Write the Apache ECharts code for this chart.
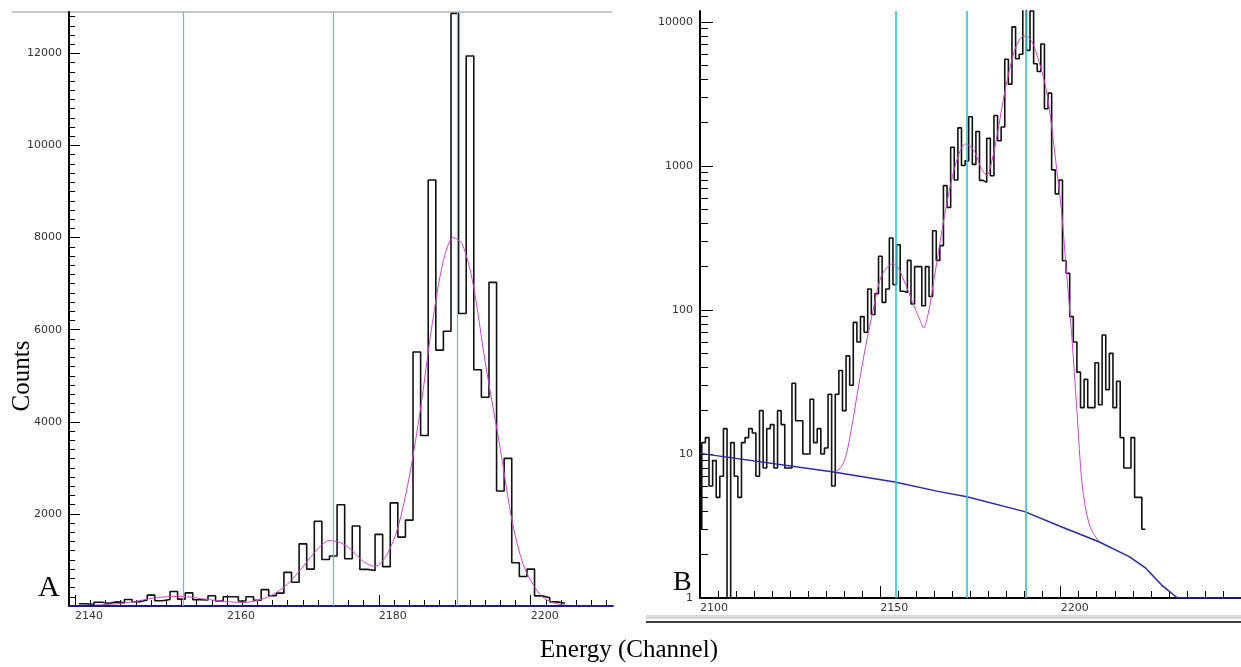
<!DOCTYPE html>
<html>
<head>
<meta charset="utf-8">
<script src="https://cdn.jsdelivr.net/npm/echarts@6/dist/echarts.min.js"></script>
<style>
  html, body { margin: 0; padding: 0; background: #fff; }
  #main { width: 1241px; height: 667px; }
</style>
</head>
<body>
<div id="main"></div>
<script>
// one bin per channel, first bin is firstChannel
const firstChannel = 2100;
const counts = [
  3, 12, 13, 6, 9, 5, 7, 15, 1, 12,          // 2100
  7, 5, 12, 13, 15, 14, 7, 20, 8, 15,        // 2110
  16, 8, 20, 16, 8, 8, 31, 17, 17, 10,       // 2120
  10, 24, 12, 15, 10, 11, 26, 6, 26, 38,     // 2130
  20, 48, 30, 82, 60, 90, 70, 140, 93, 130,  // 2140
  236, 113, 140, 316, 150, 284, 135, 132, 221, 110, // 2150
  200, 200, 107, 200, 124, 355, 221, 280, 730, 515, // 2160
  1350, 800, 1840, 1009, 1086, 2200, 1026, 1736, 795, 770, // 2170
  1556, 855, 2240, 1496, 1864, 5515, 3702, 9251, 5557, 5968, // 2180
  12868, 6353, 11944, 5130, 4532, 7028, 2497, 3206, 940, 640, // 2190
  800, 220, 180, 90, 60, 37, 21, 33, 21, 21, // 2200
  43, 22, 67, 28, 50, 21, 32, 13, 8, 8,      // 2210
  13, 5, 5, 3                                // 2220
];
// channels drawn in the linear panel
const linearRange = [2141, 2204];

// fitted peak shape (magenta)
const fitChannels = [2137, 2139, 2140.5, 2142, 2144, 2146, 2148, 2150, 2152, 2153.5,
  2155, 2157, 2159, 2161, 2162, 2163.3, 2165, 2166.5, 2168, 2170,
  2172, 2173.5, 2175, 2176.5, 2178, 2179.5, 2181, 2182.5, 2184, 2185.5,
  2187, 2188.5, 2189.8, 2191, 2192.4, 2194, 2196, 2197.6, 2199, 2200.2,
  2201.5, 2203, 2204.5, 2206, 2208, 2210.6];
const fitCounts = [7.5, 8.0, 9.8, 15, 30, 57, 100, 165, 200, 210,
  195, 150, 112, 85, 75, 95, 170, 290, 480, 850,
  1250, 1420, 1370, 1200, 960, 860, 1100, 1700, 2800, 4300,
  6100, 7500, 8000, 7850, 7000, 5300, 3400, 1800, 900, 500,
  200, 70, 20, 6, 3.2, 2.46];

// background under the peaks (blue)
const bgChannels = [2100, 2137, 2154, 2166, 2174, 2190, 2200.5, 2210.6, 2219, 2223.6, 2228, 2232.4, 2250];
const bgCounts = [10.1, 7.5, 6.4, 5.5, 5.05, 3.98, 3.1, 2.46, 1.94, 1.61, 1.23, 1.0, 1.0];

// peak centroids (cyan markers)
const centroids = [2154.2, 2174.0, 2190.3];

// axis labels
const linearXLabels = [2140, 2160, 2180, 2200];
const linearYLabels = [2000, 4000, 6000, 8000, 10000, 12000];
const logXLabels = [2100, 2150, 2200];
const logYLabels = [1, 10, 100, 1000, 10000];

const chartDom = document.getElementById('main');
const myChart = echarts.init(chartDom, undefined, { renderer: 'canvas' });

const plain = v => String(Math.round(v));
const labelFont = { color: '#333', fontFamily: 'DejaVu Sans', fontSize: 11, formatter: plain };
const serif = '"Liberation Serif", "Times New Roman", serif';

const outline = (from, to) => {
  const pts = [];
  for (let ch = from; ch <= to; ch++) {
    const v = counts[ch - firstChannel];
    pts.push([ch - 0.5, v], [ch + 0.5, v]);
  }
  return pts;
};
const pairs = (xs, ys) => xs.map((x, i) => [x, ys[i]]);

const minorA = [];
for (let c = 2140; c <= 2210; c += 2) minorA.push(c);
const minorAY = [];
for (let v = 200; v <= 12800; v += 200) minorAY.push(v);
const minorLog = [];
for (let p = 1; p <= 10000; p *= 10) {
  for (let m = 1; m <= 9; m++) if (m * p <= 11900) minorLog.push(m * p);
}

const cyanLines = (xi, yi, color, width) => ({
  type: 'line', xAxisIndex: xi, yAxisIndex: yi, data: [], z: 1,
  markLine: {
    silent: true, symbol: 'none', animation: false,
    label: { show: false },
    lineStyle: { color, width, type: 'solid' },
    data: centroids.map(c => ({ xAxis: c }))
  }
});

const xRangeA = { min: 2139.2, max: 2210.7 };
const yMaxA = 12900;
const yMaxB = 11920;

let option = {
  animation: false,
  grid: [
    { left: 69, top: 12, width: 543, height: 594 },
    { left: 700, top: 11, width: 541, height: 587 }
  ],
  xAxis: [
    {
      gridIndex: 0, type: 'value', position: 'bottom', ...xRangeA,
      axisLine: { show: true, onZero: false, lineStyle: { color: '#1c1c78', width: 2 } },
      axisTick: { show: true, inside: true, length: 6, customValues: minorA, lineStyle: { color: '#000' } },
      axisLabel: { customValues: linearXLabels, align: 'left', margin: 5, ...labelFont },
      splitLine: { show: false }
    },
    {
      gridIndex: 0, type: 'value', position: 'bottom', ...xRangeA,
      axisLine: { show: false, onZero: false },
      axisTick: { show: true, inside: true, length: 11, customValues: linearXLabels, lineStyle: { color: '#000' } },
      axisLabel: { show: false },
      splitLine: { show: false }
    },
    {
      gridIndex: 1, type: 'value', position: 'bottom', min: 2100, max: 2250, interval: 50,
      axisLine: { show: true, onZero: false, lineStyle: { color: '#000', width: 2 } },
      axisTick: { show: true, inside: true, length: 12, lineStyle: { color: '#000' } },
      minorTick: { show: true, splitNumber: 10, length: 7, lineStyle: { color: '#000' } },
      axisLabel: { customValues: logXLabels, align: 'left', margin: 5, ...labelFont },
      splitLine: { show: false },
      minorSplitLine: { show: false }
    }
  ],
  yAxis: [
    {
      gridIndex: 0, type: 'value', position: 'left', min: 0, max: yMaxA,
      axisLine: { show: true, lineStyle: { color: '#000', width: 2 } },
      axisTick: { show: true, inside: true, length: 6, customValues: minorAY, lineStyle: { color: '#000' } },
      axisLabel: { customValues: linearYLabels, margin: 7, ...labelFont },
      splitLine: { show: false }
    },
    {
      gridIndex: 0, type: 'value', position: 'left', min: 0, max: yMaxA,
      axisLine: { show: false },
      axisTick: { show: true, inside: true, length: 11, customValues: linearYLabels, lineStyle: { color: '#000' } },
      axisLabel: { show: false },
      splitLine: { show: false }
    },
    {
      gridIndex: 1, type: 'log', logBase: 10, position: 'left', min: 1, max: yMaxB,
      axisLine: { show: true, lineStyle: { color: '#000', width: 2 } },
      axisTick: { show: true, inside: true, length: 8, customValues: minorLog, lineStyle: { color: '#000' } },
      axisLabel: { customValues: logYLabels, margin: 7, ...labelFont },
      splitLine: { show: false }
    },
    {
      gridIndex: 1, type: 'log', logBase: 10, position: 'left', min: 1, max: yMaxB,
      axisLine: { show: false },
      axisTick: { show: true, inside: true, length: 13, customValues: logYLabels, lineStyle: { color: '#000' } },
      axisLabel: { show: false },
      splitLine: { show: false }
    }
  ],
  series: [
    cyanLines(0, 0, '#52c8c8', 1.2),
    {
      name: 'counts A', type: 'line', xAxisIndex: 0, yAxisIndex: 0, z: 2,
      data: outline(linearRange[0], linearRange[1]),
      symbol: 'none', lineStyle: { color: '#111', width: 1.6 }
    },
    {
      name: 'fit A', type: 'line', xAxisIndex: 0, yAxisIndex: 0, z: 3,
      data: pairs(fitChannels, fitCounts), smooth: 0.3,
      symbol: 'none', lineStyle: { color: '#cc44cc', width: 1 }
    },
    {
      name: 'background A', type: 'line', xAxisIndex: 0, yAxisIndex: 0, z: 4,
      data: pairs(bgChannels, bgCounts),
      symbol: 'none', lineStyle: { color: '#1c1c78', width: 1.5 }
    },
    cyanLines(2, 2, '#2cc6d2', 1.6),
    {
      name: 'counts B', type: 'line', xAxisIndex: 2, yAxisIndex: 2, z: 2,
      data: outline(firstChannel, firstChannel + counts.length - 1),
      symbol: 'none', lineStyle: { color: '#111', width: 1.6 }
    },
    {
      name: 'fit B', type: 'line', xAxisIndex: 2, yAxisIndex: 2, z: 3,
      data: pairs(fitChannels, fitCounts), smooth: 0.3,
      symbol: 'none', lineStyle: { color: '#cc44cc', width: 1 }
    },
    {
      name: 'background B', type: 'line', xAxisIndex: 2, yAxisIndex: 2, z: 4,
      data: pairs(bgChannels, bgCounts),
      symbol: 'none', lineStyle: { color: '#2a2a9c', width: 1.5 }
    }
  ],
  graphic: [
    { type: 'line', shape: { x1: 12, y1: 12, x2: 612, y2: 12 }, style: { stroke: '#c6c6c6', lineWidth: 2 } },
    { type: 'rect', shape: { x: 646, y: 615, width: 595, height: 4 }, style: { fill: '#d8d8d8' } },
    { type: 'line', shape: { x1: 646, y1: 622, x2: 1241, y2: 622 }, style: { stroke: '#000', lineWidth: 1.5 } },
    {
      type: 'text', x: 22, y: 376, rotation: Math.PI / 2,
      style: { text: 'Counts', font: '25px ' + serif, fill: '#000', align: 'center', verticalAlign: 'middle', textAlign: 'center', textVerticalAlign: 'middle' }
    },
    {
      type: 'text', x: 38, y: 588,
      style: { text: 'A', font: '30px ' + serif, fill: '#000', verticalAlign: 'middle', textVerticalAlign: 'middle' }
    },
    {
      type: 'text', x: 673, y: 583,
      style: { text: 'B', font: '28px ' + serif, fill: '#000', verticalAlign: 'middle', textVerticalAlign: 'middle' }
    },
    {
      type: 'text', x: 629, y: 650,
      style: { text: 'Energy (Channel)', font: '25px ' + serif, fill: '#000', align: 'center', verticalAlign: 'middle', textAlign: 'center', textVerticalAlign: 'middle' }
    }
  ]
};

if (option && typeof option === 'object') {
  myChart.setOption(option);
}
window.addEventListener('resize', () => {
  myChart.resize();
});
</script>
</body>
</html>
